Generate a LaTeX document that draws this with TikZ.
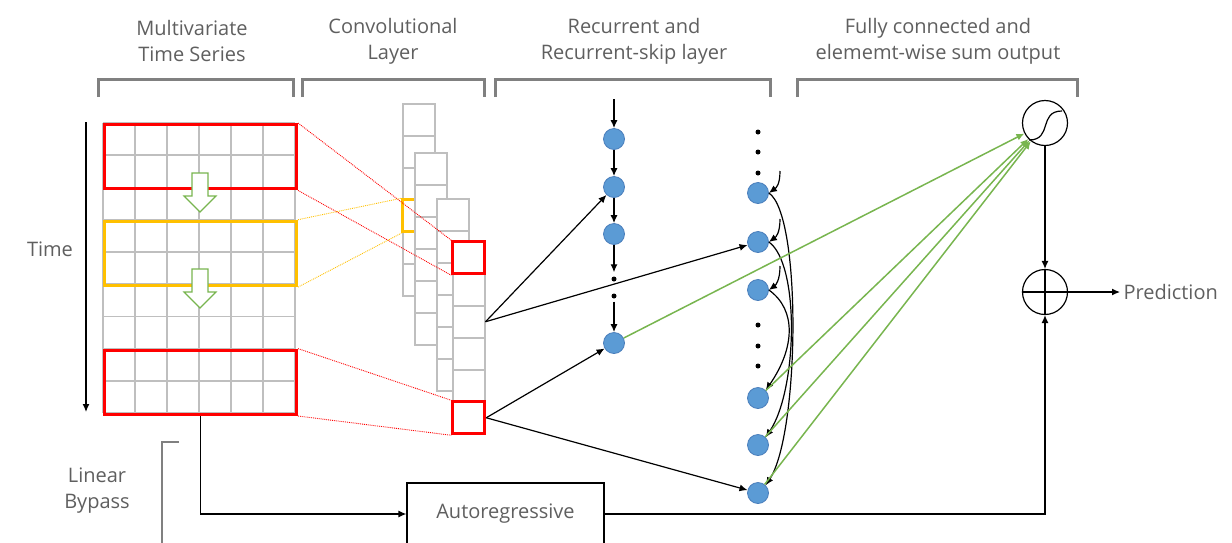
\documentclass[tikz,border=0pt]{standalone}
\usepackage{fontspec}
\setmainfont{Open Sans}
\usepackage{xcolor}
\usepackage{tikz}
\usetikzlibrary{arrows.meta}

\definecolor{txtgray}{HTML}{5F5F5F}
\definecolor{gridgray}{HTML}{BFBFBF}
\definecolor{brktgray}{HTML}{808080}
\definecolor{winyellow}{HTML}{FFC000}
\definecolor{fcgreen}{HTML}{78B54F}
\definecolor{nodeblue}{HTML}{5B9BD5}
\definecolor{nodeedge}{HTML}{4A7EBB}

\begin{document}
\begin{tikzpicture}[x=1pt,y=-1pt,
    lbl/.style={text=txtgray,font=\fontsize{20}{26}\selectfont,align=center},
    brkt/.style={draw=brktgray,line width=3pt},
    convcell/.style={draw=gridgray,line width=1.5pt,fill=white,minimum size=32pt,inner sep=0pt,anchor=north west},
    hot/.style={draw=red,line width=3pt,inner sep=0pt},
    warm/.style={draw=winyellow,line width=3pt,inner sep=0pt},
    rnnunit/.style={circle,fill=nodeblue,draw=nodeedge,line width=0.8pt,minimum size=21pt,inner sep=0pt},
    ellip/.style={circle,fill=black,minimum size=5pt,inner sep=0pt},
    opnode/.style={circle,draw,line width=1.2pt,minimum size=45pt,inner sep=0pt},
    conn/.style={->,line width=1.2pt},
    fc/.style={->,draw=fcgreen,line width=1.5pt},
    hollow/.style={draw=fcgreen,fill=white,line width=1.2pt},
    tieline/.style={densely dotted,line width=0.9pt}]
\useasboundingbox (0,0) rectangle (1232,542);
\begin{scope}[>={Latex[length=8pt,width=7pt]}]

    % headings and brackets
    \node[lbl] (hdrA) at (192,41) {Multivariate\\Time Series};
    \node[lbl] (hdrB) at (393,41) {Convolutional\\Layer};
    \node[lbl] (hdrC) at (634,41) {Recurrent and\\Recurrent-skip layer};
    \node[lbl] (hdrD) at (938,41) {Fully connected and\\elememt-wise sum output};
    \foreach \a/\b in {98/293, 302/484, 495/770, 797/1077}
        \draw[brkt] (\a,97) |- (\b,79) -- (\b,97);

    % input series
    \foreach \i in {0,...,6}
        \draw[gridgray,line width=1.5pt] ({103+32*\i},123) -- ({103+32*\i},413);
    \foreach \j in {0,...,9}
        \draw[gridgray,line width=1.5pt] (103,{123+32.22*\j}) -- (295,{123+32.22*\j});
    \node[hot,minimum width=192pt,minimum height=64.4pt,anchor=north west] (winA) at (103,123) {};
    \node[warm,minimum width=192pt,minimum height=64.4pt,anchor=north west] (winB) at (103,219.7) {};
    \node[hot,minimum width=192pt,minimum height=64.4pt,anchor=north west] (winC) at (103,348.6) {};
    \foreach \t in {212,308}
        \draw[hollow] (192,{\t-39}) -- (208,{\t-39}) -- (208,{\t-16}) -- (216,{\t-16})
            -- (200,\t) -- (184,{\t-16}) -- (192,{\t-16}) -- cycle;

    \coordinate (tA) at (86,122);
    \coordinate (tB) at (86,412);
    \draw[conn] (tA) -- (tB);
    \node[lbl] (tlbl) at (50,249) {Time};

    % convolution stacks
    \foreach \i in {0,...,5}
        \node[convcell] (sA\i) at (402,{103+32*\i}) {};
    \node[warm,minimum size=32pt] (yel) at (sA3) {};
    \foreach \s/\x/\y in {B/414/152, C/436/198, D/452/241}
        \foreach \i in {0,...,5}
            \node[convcell] (s\s\i) at (\x,{\y+32*\i}) {};
    \node[hot,minimum size=32pt] (convA) at (sD0) {};
    \node[hot,minimum size=32pt] (convB) at (sD5) {};

    \draw[tieline,red] (winA.north east) -- (convA.north west)
                       (winA.south east) -- (convA.south west);
    \draw[tieline,winyellow] (winB.north east) -- (yel.north west)
                             (winB.south east) -- (yel.south west);
    \draw[tieline,red] (winC.north east) -- (convB.north west)
                       (winC.south east) -- (convB.south west);

    % recurrent column
    \coordinate (rIn) at (614,99);
    \node[rnnunit] (r1) at (614,139) {};
    \node[rnnunit] (r2) at (614,187) {};
    \node[rnnunit] (r3) at (614,234) {};
    \node[ellip] (rd1) at (614,279) {};
    \node[ellip] (rd2) at (614,296) {};
    \node[rnnunit] (r4) at (614,343) {};
    \draw[conn] (rIn) -- (r1);
    \draw[conn] (r1) -- (r2);
    \draw[conn] (r2) -- (r3);
    \draw[conn,shorten >=4pt] (r3) -- (rd1);
    \draw[conn,shorten <=3pt] (rd2) -- (r4);

    % recurrent-skip column
    \foreach \n/\y in {1/193,2/242,3/290,4/398,5/445,6/493}
        \node[rnnunit] (k\n) at (758,\y) {};
    \foreach \y in {132,152,173,325,346,366}
        \node[ellip] (kd\y) at (758,\y) {};
    \foreach \n/\y in {1/171,2/219,3/266}{
        \coordinate (kin\n) at (780,\y);
        \draw[conn] (kin\n) .. controls +(0,14) and +(7,-5) .. (k\n.east);
    }
    \draw[conn] (k1.east) .. controls +(33,22) and +(34,-52) .. (k6.north east);
    \draw[conn] (k2.east) .. controls +(31,22) and +(32,-48) .. (k5.north east);
    \draw[conn] (k3.east) .. controls +(28,20) and +(29,-42) .. (k4.north east);

    \draw[conn] (sD2.east) -- (r2);
    \draw[conn] (sD2.east) -- (k2);
    \draw[conn] (convB.east) -- (r4);
    \draw[conn] (convB.east) -- (k6);

    % output side
    \node[opnode] (sig) at (1045,123) {};
    \draw[line width=1.2pt] ([shift={(-16,17)}]sig.center) .. controls +(24,0) and +(-24,0) .. ([shift={(17,-12)}]sig.center);
    \node[opnode] (sum) at (1045,292) {};
    \draw[line width=1.2pt] (sum.north) -- (sum.south) (sum.west) -- (sum.east);
    \node[lbl,anchor=west] (pred) at (1120,292) {Prediction};
    \foreach \n in {r4,k4,k5,k6}
        \draw[fc] (\n) -- (sig);
    \draw[conn] (sig) -- (sum);
    \draw[conn] (sum) -- (pred);

    % linear bypass
    \node[lbl] (byp) at (97,491) {Linear\\Bypass};
    \draw[brkt,line width=2.5pt] (179,442) -- (162,442) -- (162,550);
    \node[lbl,draw=black,line width=1.2pt,minimum width=197pt,minimum height=62pt] (ar) at (505.5,514) {Autoregressive};
    \draw[conn] (winC.south) |- (ar.west);
    \draw[conn] (ar.east) -| (sum.south);

\end{scope}
\end{tikzpicture}
\end{document}
